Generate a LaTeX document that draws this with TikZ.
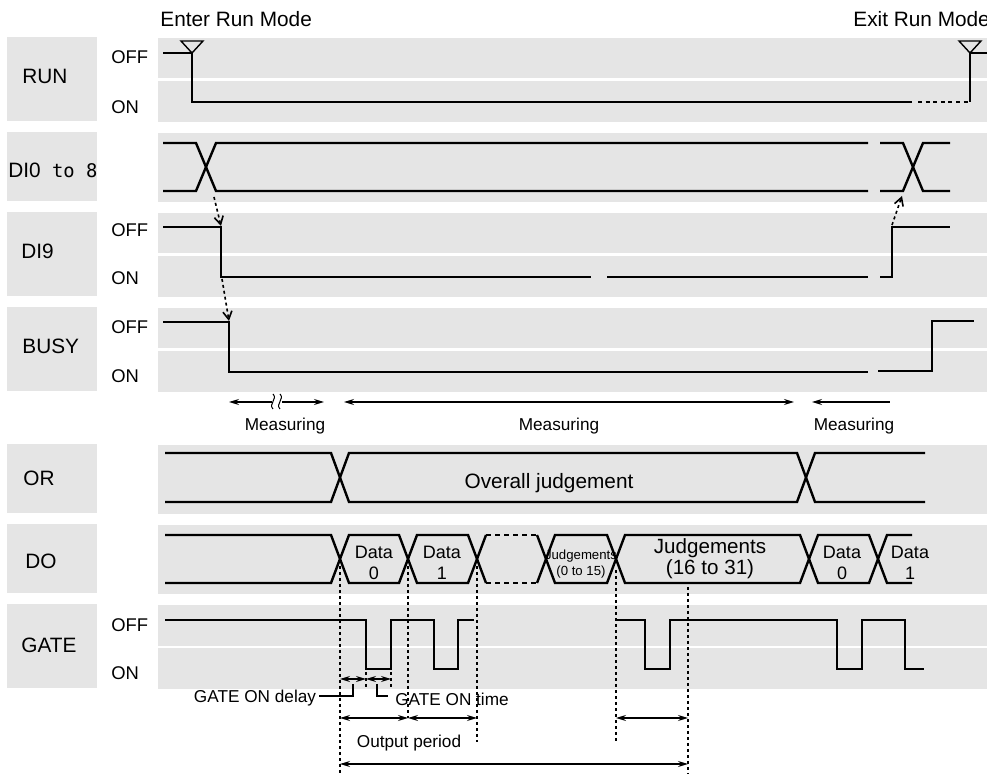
\documentclass[tikz,border=0pt]{standalone}
\usepackage{fontspec}
\setmainfont{Liberation Sans}
\newfontfamily\monofont{DejaVu Sans Mono}
\usetikzlibrary{arrows.meta}
\begin{document}
\begin{tikzpicture}[x=0.5pt,y=-0.5pt,
	sig/.style={line width=1.2pt},
	cause/.style={dash pattern=on 1.5pt off 1.5pt,line width=0.8pt,-{Straight Barb[length=4pt,width=4.5pt]}},
	guide/.style={dash pattern=on 1.5pt off 1.5pt,line width=0.7pt},
	span/.style={line width=0.6pt,{Stealth[length=5pt,width=3pt]}-{Stealth[length=5pt,width=3pt]}},
	lbl/.style={font=\fontsize{10.4}{12}\selectfont,anchor=west,inner sep=0pt},
	level/.style={font=\fontsize{9.2}{11}\selectfont,anchor=west,inner sep=0pt},
	note/.style={font=\fontsize{8.6}{10}\selectfont,inner sep=0pt},
	word/.style={font=\fontsize{9}{10.5}\selectfont,align=center,inner sep=0pt}]
	\useasboundingbox (0,0) rectangle (987,774);
	%lanes
	\foreach \top/\bot in {38/122,133/202,213/297,308/392,445/514,525/594,605/689}
		{
			\fill[black!10] (158,\top) rectangle (987,\bot);
			\fill[black!10] (7,\top-1) rectangle (97,\bot-1);
		}
	\foreach \y in {79.5,254.5,349.5,647}
		\draw[white,line width=1.2pt] (158,\y) -- (987,\y);
	%names
	\node[lbl] (run) at (22,76) {RUN};
	\node[lbl] (di) at (8,170) {DI0\fontsize{9.4}{11}\monofont{} to 8};
	\node[lbl] (dinine) at (21,251) {DI9};
	\node[lbl] (busy) at (22,346) {BUSY};
	\node[lbl] (or) at (23,478) {OR};
	\node[lbl] (do) at (25,561) {DO};
	\node[lbl] (gate) at (21,645) {GATE};
	\foreach \y/\t in {57/OFF,107/ON,230/OFF,278/ON,327/OFF,376/ON,625/OFF,673/ON}
		\node[level] (lv\y) at (111,\y) {\t};
	\node[lbl] (enter) at (160,19) {Enter Run Mode};
	\node[lbl] (exit) at (853,19) {Exit Run Mode};
	%RUN
	\draw[sig] (163,53) -- (192,53) -- (192,102) -- (912,102);
	\draw[sig,dash pattern=on 2pt off 1.8pt] (918,102) -- (970,102);
	\draw[sig] (970,102) -- (970,53) -- (987,53);
	\foreach \x in {192,970}
		\draw[line width=0.7pt] (\x-11,41) -- (\x+11,41) -- (\x,53) -- cycle;
	%DI0 to 8
	\draw[sig] (163,143) -- (196,143) -- (216,191) -- (868,191);
	\draw[sig] (163,191) -- (196,191) -- (216,143) -- (868,143);
	\draw[sig] (880,143) -- (903,143) -- (923,191) -- (950,191);
	\draw[sig] (880,191) -- (903,191) -- (923,143) -- (950,143);
	%DI9
	\draw[sig] (163,227) -- (221,227) -- (221,277) -- (591,277);
	\draw[sig] (607,277) -- (868,277);
	\draw[sig] (880,277) -- (892,277) -- (892,227) -- (950,227);
	%BUSY
	\draw[sig] (163,322) -- (229,322) -- (229,372) -- (868,372);
	\draw[sig] (878,371) -- (932,371) -- (932,321) -- (974,321);
	%causes
	\coordinate (dix) at (214,197);
	\coordinate (dinineoff) at (221,226);
	\coordinate (dinineon) at (222,279);
	\coordinate (busyoff) at (229,321);
	\coordinate (dinineup) at (892,225);
	\coordinate (dixend) at (902,196);
	\draw[cause] (dix) -- (dinineoff);
	\draw[cause] (dinineon) -- (busyoff);
	\draw[cause] (dinineup) -- (dixend);
	%measuring
	\draw[span] (229,402) -- (324,402);
	\fill[white] (272,398) rectangle (282,406);
	\foreach \x in {273,280}
		\draw[line width=0.5pt] (\x,394) .. controls (\x+5,399) and (\x-5,404) .. (\x,409);
	\draw[span] (344,402) -- (794,402);
	\draw[line width=0.6pt,{Stealth[length=5pt,width=3pt]}-] (812,402) -- (890,402);
	\foreach \x/\n in {285/a,559/b,854/c}
		\node[note] (meas\n) at (\x,426) {Measuring};
	%OR
	\draw[sig] (165,453) -- (331,453) -- (349,502) -- (797,502) -- (815,453) -- (925,453);
	\draw[sig] (165,502) -- (331,502) -- (349,453) -- (797,453) -- (815,502) -- (925,502);
	\node[font=\fontsize{10.4}{12}\selectfont,inner sep=0pt] (overall) at (549,483) {Overall judgement};
	%DO
	\draw[sig] (165,535) -- (331,535) -- (349,583) -- (399,583) -- (417,535) -- (468,535) -- (486,583);
	\draw[sig] (165,583) -- (331,583) -- (349,535) -- (399,535) -- (417,583) -- (468,583) -- (486,535);
	\draw[sig,dash pattern=on 2.5pt off 2pt] (486,535) -- (537,535) (486,583) -- (537,583);
	\draw[sig] (537,535) -- (555,583) -- (607,583) -- (625,535) -- (800,535) -- (818,583) -- (869,583) -- (887,535) -- (912,535);
	\draw[sig] (537,583) -- (555,535) -- (607,535) -- (625,583) -- (800,583) -- (818,535) -- (869,535) -- (887,583) -- (912,583);
	\foreach \x/\d/\n in {374/0/a,442/1/b,842/0/c,910/1/d}
		\node[word] (data\n) at (\x,563) {Data\\\d};
	\node[word,font=\fontsize{6.6}{8}\selectfont] (judgelo) at (581,564) {Judgements\\(0 to 15)};
	\node[word,font=\fontsize{10.3}{10.5}\selectfont] (judgehi) at (710,559) {Judgements\\(16 to 31)};
	%GATE
	\draw[sig] (165,620) -- (366,620) -- (366,669) -- (391,669) -- (391,620) -- (434,620) -- (434,669) -- (458,669) -- (458,620) -- (474,620);
	\draw[sig] (617,620) -- (645,620) -- (645,669) -- (670,669) -- (670,620) -- (837,620) -- (837,669) -- (862,669) -- (862,620) -- (905,620) -- (905,669) -- (924,669);
	%timing
	\foreach \x/\a/\b in {340/560/774,408/560/718,477/560/742,616/570/742,688/587/774,366/672/688,391/672/688}
		\draw[guide] (\x,\a) -- (\x,\b);
	\draw[span] (340,679) -- (366,679);
	\draw[span] (366,679) -- (391,679);
	\draw[span] (340,718) -- (408,718);
	\draw[span] (408,718) -- (477,718);
	\draw[span] (616,718) -- (688,718);
	\draw[span] (340,764) -- (688,764);
	\node[note] (delay) at (255,698) {GATE ON delay};
	\node[note] (ontime) at (452,699) {GATE ON time};
	\draw[line width=0.7pt] (delay.east) ++(3,-2) -| (353,684);
	\draw[line width=0.7pt] (377,684) |- (388,696);
	\node[note] (period) at (409,743) {Output period};
\end{tikzpicture}
\end{document}
